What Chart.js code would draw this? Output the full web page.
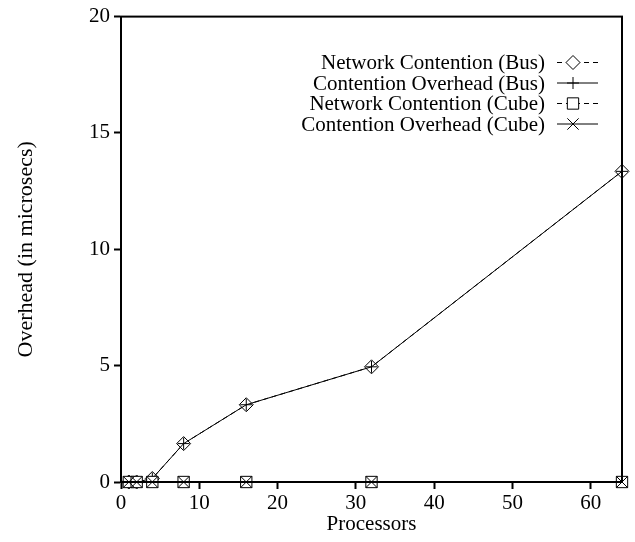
<!DOCTYPE html>
<html>
<head>
<meta charset="utf-8">
<script src="https://cdn.jsdelivr.net/npm/chart.js@4/dist/chart.umd.min.js"></script>
<style>
  html, body { margin: 0; padding: 0; background: #fff; }
  #wrap { width: 635px; height: 542px; position: relative; }
</style>
</head>
<body>
<div id="wrap"><canvas id="c"></canvas></div>
<script>
// Number of processors on the x axis
const processors = [1, 2, 4, 8, 16, 32, 64];

// Overhead values in microseconds
const netContentionBus = [0, 0, 0.15, 1.65, 3.32, 4.95, 13.35];
const contOverheadBus  = [0, 0, 0.15, 1.65, 3.32, 4.95, 13.35];
const netContentionCube = [0, 0, 0, 0, 0, 0, 0];
const contOverheadCube  = [0, 0, 0, 0, 0, 0, 0];

const seriesLabels = [
  'Network Contention (Bus)',
  'Contention Overhead (Bus)',
  'Network Contention (Cube)',
  'Contention Overhead (Cube)'
];

const xTicks = [0, 10, 20, 30, 40, 50, 60];
const yTicks = [0, 5, 10, 15, 20];

const FONT = '"Liberation Serif", "Times New Roman", serif';
const FSIZE = 21;

function pts(vals) { return processors.map((p, i) => ({ x: p, y: vals[i] })); }

// Frame around the plot area
const framePlugin = {
  id: 'frame',
  afterDatasetsDraw(chart) {
    const { ctx, chartArea: a } = chart;
    ctx.save();
    ctx.strokeStyle = '#000';
    ctx.lineWidth = 2;
    ctx.strokeRect(a.left, a.top, a.right - a.left, a.bottom - a.top);
    ctx.restore();
  }
};

// Key in the upper right: right-aligned text, then a line sample with its marker
const keyPlugin = {
  id: 'key',
  afterDraw(chart) {
    const { ctx } = chart;
    const textRight = 545, lineL = 557, lineR = 598, markX = 573;
    const rows = [62.5, 83, 103.5, 124];
    ctx.save();
    ctx.font = FSIZE + 'px ' + FONT;
    ctx.textAlign = 'right';
    ctx.textBaseline = 'middle';
    chart.data.datasets.forEach((ds, i) => {
      const y = rows[i];
      ctx.fillStyle = '#000';
      ctx.fillText(ds.label, textRight, y + 1);
      ctx.strokeStyle = '#000';
      ctx.lineWidth = 1;
      ctx.setLineDash(ds.borderDash || []);
      ctx.beginPath();
      ctx.moveTo(lineL, y);
      ctx.lineTo(lineR, y);
      ctx.stroke();
      ctx.setLineDash([]);
      ctx.fillStyle = ds.pointBackgroundColor;
      ctx.strokeStyle = '#000';
      ctx.lineWidth = 1;
      Chart.helpers.drawPoint(ctx, {
        pointStyle: ds.pointStyle,
        radius: ds.pointRadius,
        rotation: 0,
        borderWidth: 1
      }, markX, y);
    });
    ctx.restore();
  }
};

const common = {
  borderColor: '#000',
  pointBorderColor: '#000',
  borderWidth: 1,
  pointBorderWidth: 1,
  showLine: true,
  fill: false,
  tension: 0,
  clip: false
};

new Chart(document.getElementById('c'), {
  type: 'scatter',
  data: {
    datasets: [
      Object.assign({}, common, {
        label: seriesLabels[0], data: pts(netContentionBus),
        borderDash: [5, 4], pointStyle: 'rectRot', pointRadius: 7,
        pointBackgroundColor: '#fff', order: 4
      }),
      Object.assign({}, common, {
        label: seriesLabels[1], data: pts(contOverheadBus),
        pointStyle: 'cross', pointRadius: 6,
        pointBackgroundColor: 'rgba(0,0,0,0)', order: 3
      }),
      Object.assign({}, common, {
        label: seriesLabels[2], data: pts(netContentionCube),
        borderDash: [5, 4], pointStyle: 'rect', pointRadius: 8,
        pointBackgroundColor: '#fff', order: 2
      }),
      Object.assign({}, common, {
        label: seriesLabels[3], data: pts(contOverheadCube),
        pointStyle: 'crossRot', pointRadius: 8,
        pointBackgroundColor: 'rgba(0,0,0,0)', order: 1
      })
    ]
  },
  options: {
    responsive: true,
    maintainAspectRatio: false,
    animation: false,
    devicePixelRatio: 1,
    layout: { padding: { top: 15, right: 13, left: 0, bottom: 0 } },
    plugins: { legend: { display: false }, tooltip: { enabled: false } },
    scales: {
      x: {
        type: 'linear', min: 0, max: 64,
        afterFit(s) { s.height = 60; },
        afterBuildTicks(s) { s.ticks = xTicks.map(v => ({ value: v })); },
        border: { display: true, color: '#000', width: 2 },
        grid: { drawOnChartArea: false, drawTicks: true, tickLength: 7, tickWidth: 2, tickColor: '#000' },
        ticks: { color: '#000', font: { family: FONT, size: FSIZE }, padding: 2, maxRotation: 0 },
        title: { display: true, text: 'Processors', color: '#000', font: { family: FONT, size: FSIZE }, padding: { top: 0, bottom: 5 } }
      },
      y: {
        type: 'linear', min: 0, max: 20,
        afterFit(s) { s.width = 121; },
        afterBuildTicks(s) { s.ticks = yTicks.map(v => ({ value: v })); },
        border: { display: true, color: '#000', width: 2 },
        grid: { drawOnChartArea: false, drawTicks: true, tickLength: 7, tickWidth: 2, tickColor: '#000' },
        ticks: { color: '#000', font: { family: FONT, size: FSIZE }, padding: 4 },
        title: { display: true, text: 'Overhead (in microsecs)', color: '#000', font: { family: FONT, size: 22 }, padding: { top: 13, bottom: 0 } }
      }
    }
  },
  plugins: [framePlugin, keyPlugin]
});
</script>
</body>
</html>
